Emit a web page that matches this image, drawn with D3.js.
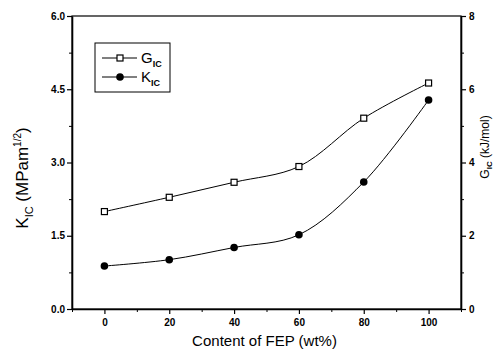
<!DOCTYPE html>
<html>
<head>
<meta charset="utf-8">
<script src="https://cdn.jsdelivr.net/npm/d3@7"></script>
<style>
  body { margin: 0; background: #fff; }
  text { font-family: "Liberation Sans", Arial, sans-serif; fill: #000; }
</style>
</head>
<body>
<svg id="chart" width="495" height="354"></svg>
<script>
// data
const fep = [0, 20, 40, 60, 80, 100];
const kic = [0.88, 1.01, 1.26, 1.52, 2.60, 4.28];   // MPa m^1/2, left axis
const gic = [2.66, 3.05, 3.46, 3.89, 5.21, 6.17];   // kJ/mol, right axis
const xTicks = [0, 20, 40, 60, 80, 100];
const yLeftTicks = [0, 1.5, 3.0, 4.5, 6.0];
const yRightTicks = [0, 2, 4, 6, 8];

const margin = {top: 16, right: 34, bottom: 45, left: 72};
const W = 495, H = 354;
const iw = W - margin.left - margin.right;
const ih = H - margin.top - margin.bottom;

const svg = d3.select('#chart');
const g = svg.append('g').attr('transform', `translate(${margin.left},${margin.top})`);

const x = d3.scaleLinear().domain([-10, 110]).range([0, iw]);
const yL = d3.scaleLinear().domain([0, 6]).range([ih, 0]);
const yR = d3.scaleLinear().domain([0, 8]).range([ih, 0]);

// frame
g.append('rect').attr('width', iw).attr('height', ih)
  .attr('fill', 'none').attr('stroke', '#000').attr('stroke-width', 1.2);

function styleAxis(sel) {
  sel.select('.domain').attr('stroke-width', 1.6);
  sel.selectAll('.tick line').attr('stroke-width', 1.2);
  sel.selectAll('.tick text').style('font-size', '10px').style('font-weight', 'bold');
}

// minor ticks
g.append('g').attr('transform', `translate(0,${ih})`)
  .call(d3.axisBottom(x).tickValues(d3.range(-10, 111, 20)).tickSize(3).tickFormat(''))
  .call(s => s.select('.domain').remove());
g.append('g')
  .call(d3.axisLeft(yL).tickValues([0.75, 2.25, 3.75, 5.25]).tickSize(3).tickFormat(''))
  .call(s => s.select('.domain').remove());
g.append('g').attr('transform', `translate(${iw},0)`)
  .call(d3.axisRight(yR).tickValues([1, 3, 5, 7]).tickSize(3).tickFormat(''))
  .call(s => s.select('.domain').remove());

// major axes
g.append('g').attr('transform', `translate(0,${ih})`)
  .call(d3.axisBottom(x).tickValues(xTicks).tickSize(5).tickSizeOuter(0).tickPadding(5))
  .call(styleAxis);
g.append('g')
  .call(d3.axisLeft(yL).tickValues(yLeftTicks).tickFormat(d3.format('.1f')).tickSize(5).tickSizeOuter(0).tickPadding(2))
  .call(styleAxis);
g.append('g').attr('transform', `translate(${iw},0)`)
  .call(d3.axisRight(yR).tickValues(yRightTicks).tickSize(5).tickSizeOuter(0).tickPadding(3))
  .call(styleAxis);

// lines
const lineK = d3.line().x((d, i) => x(fep[i])).y(d => yL(d)).curve(d3.curveCatmullRom);
const lineG = d3.line().x((d, i) => x(fep[i])).y(d => yR(d)).curve(d3.curveCatmullRom);

g.append('path').datum(gic).attr('d', lineG)
  .attr('fill', 'none').attr('stroke', '#000').attr('stroke-width', 1);
g.append('path').datum(kic).attr('d', lineK)
  .attr('fill', 'none').attr('stroke', '#000').attr('stroke-width', 1);

g.selectAll('.sq').data(gic).enter().append('rect')
  .attr('x', (d, i) => x(fep[i]) - 3).attr('y', d => yR(d) - 3)
  .attr('width', 6).attr('height', 6)
  .attr('fill', '#fff').attr('stroke', '#000').attr('stroke-width', 1.2);
g.selectAll('.dot').data(kic).enter().append('circle')
  .attr('cx', (d, i) => x(fep[i])).attr('cy', d => yL(d)).attr('r', 3.8)
  .attr('fill', '#000');

// legend
const lg = svg.append('g').attr('transform', 'translate(95,43)');
lg.append('rect').attr('width', 75).attr('height', 49)
  .attr('fill', '#fff').attr('stroke', '#000').attr('stroke-width', 1);
lg.append('line').attr('x1', 7).attr('x2', 42).attr('y1', 15).attr('y2', 15).attr('stroke', '#000');
lg.append('rect').attr('x', 22).attr('y', 12).attr('width', 6).attr('height', 6)
  .attr('fill', '#fff').attr('stroke', '#000').attr('stroke-width', 1.2);
lg.append('line').attr('x1', 7).attr('x2', 42).attr('y1', 34).attr('y2', 34).attr('stroke', '#000');
lg.append('circle').attr('cx', 25).attr('cy', 34).attr('r', 3.8).attr('fill', '#000');
const t1 = lg.append('text').attr('x', 46).attr('y', 20).style('font-size', '15px');
t1.append('tspan').text('G');
t1.append('tspan').attr('dy', 4).style('font-size', '9px').style('font-weight', 'bold').text('IC');
const t2 = lg.append('text').attr('x', 46).attr('y', 39).style('font-size', '15px');
t2.append('tspan').text('K');
t2.append('tspan').attr('dy', 4).style('font-size', '9px').style('font-weight', 'bold').text('IC');

// axis titles
svg.append('text').attr('x', margin.left + iw / 2 - 2).attr('y', 346)
  .attr('text-anchor', 'middle').style('font-size', '15px').text('Content of FEP (wt%)');

const yt = svg.append('text').attr('transform', 'translate(28,178) rotate(-90)')
  .attr('text-anchor', 'middle').style('font-size', '17px');
yt.append('tspan').text('K');
yt.append('tspan').attr('dy', 5).style('font-size', '11px').text('IC');
yt.append('tspan').attr('dy', -5).text(' (MPam');
yt.append('tspan').attr('dy', -7).style('font-size', '10px').text('1/2');
yt.append('tspan').attr('dy', 7).text(')');

const rt = svg.append('text').attr('transform', 'translate(489,147) rotate(-90)')
  .attr('text-anchor', 'middle').style('font-size', '12px');
rt.append('tspan').text('G');
rt.append('tspan').attr('dy', 3).style('font-size', '8px').style('font-weight', 'bold').text('IC');
rt.append('tspan').attr('dy', -3).text(' (kJ/mol)');
</script>
</body>
</html>
